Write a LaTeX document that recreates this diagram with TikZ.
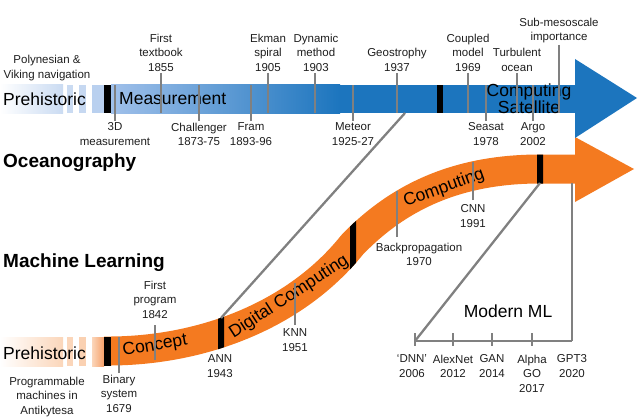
\documentclass[tikz,border=0pt]{standalone}
\usepackage{fontspec}
\setmainfont{Liberation Sans}
\usetikzlibrary{positioning}

\definecolor{oceanblue}{RGB}{28,117,190}
\definecolor{paleblue}{RGB}{202,219,242}
\definecolor{midblue}{RGB}{160,192,234}
\definecolor{mlorange}{RGB}{244,122,32}
\definecolor{paleorange}{RGB}{251,214,186}
\definecolor{midorange}{RGB}{246,160,106}
\definecolor{tickgray}{RGB}{128,128,128}
\definecolor{labeltext}{RGB}{30,30,30}

\tikzstyle{event} = [align=center, inner sep=1.5pt, text=labeltext, font=\fontsize{11.5}{14.5}\selectfont]
\tikzstyle{era} = [inner sep=0pt, text=black, align=center, font=\fontsize{17.5}{15}\selectfont]
\tikzstyle{field} = [inner sep=0pt, anchor=west, font=\fontsize{19}{22}\bfseries\selectfont]
\tikzstyle{tick} = [draw=tickgray, line width=2.6pt]
\tikzstyle{link} = [draw=tickgray, line width=2.3pt]
\tikzstyle{band} = [draw=mlorange, line width=29pt]

\newcommand{\MLPath}{(104,351) .. controls (200,352) and (295,316) .. (352,245)
    .. controls (400,195) and (460,169) .. (540,169) -- (575,169)}

\begin{document}
\begin{tikzpicture}[x=1pt, y=-1pt]
    \useasboundingbox (0,0) rectangle (640,420);

    % machine learning band
    \fill[mlorange] (575,137) -- (575,202) -- (634,169) -- cycle;
    \draw[band] \MLPath;
    \shade[left color=white, right color=paleorange] (0,337) rectangle (63,366);
    \fill[paleorange] (67,337) rectangle (73,366);
    \fill[paleorange!90!midorange] (79,337) rectangle (86,366);
    \shade[left color=paleorange, right color=midorange] (92,337) rectangle (104,366);
    \fill[black] (104,337) rectangle (111,366);
    \foreach \x in {218,350,537}{
        \begin{scope}
            \clip (\x,140) rectangle (\x+6,380);
            \draw[band, draw=black] \MLPath;
        \end{scope}
    }

    % oceanography band
    \fill[oceanblue] (111,85) rectangle (575,113);
    \shade[left color=midblue, right color=oceanblue] (111,85) rectangle (340,113);
    \fill[oceanblue] (575,59) -- (575,138) -- (637,98) -- cycle;
    \shade[left color=white, right color=paleblue] (0,85) rectangle (63,113);
    \fill[paleblue] (67,85) rectangle (73,113);
    \fill[paleblue!90!midblue] (79,85) rectangle (86,113);
    \fill[paleblue!60!midblue] (92,85) rectangle (104,113);
    \fill[black] (104,85) rectangle (111,113);
    \fill[black] (437,85) rectangle (443,113);

    % era names
    \node[era, anchor=west] (PreOcean) at (3,99) {Prehistoric};
    \node[era, anchor=west] (Measurement) at (119,99) {Measurement};
    \node[era] (CompSatellite) at (529,99) {Computing\\Satellite};
    \node[era, anchor=west] (PreML) at (3,353) {Prehistoric};
    \node[era, rotate=10] (Concept) at (155,346) {Concept};
    \node[era, rotate=33] (DigitalComputing) at (289,297) {Digital Computing};
    \node[era, rotate=20] (Computing) at (444,188) {Computing};
    \node[field] (Oceanography) at (3,163) {Oceanography};
    \node[field] (MachineLearning) at (3,263) {Machine Learning};

    % oceanography events
    \node[event] (Navigation) at (47,68) {Polynesian \&\\Viking navigation};
    \node[event, anchor=south] (FirstTextbook) at (161,73) {First\\textbook\\1855};
    \node[event, anchor=south] (Ekman) at (268,73) {Ekman\\spiral\\1905};
    \node[event, anchor=south] (Dynamic) at (316,73) {Dynamic\\method\\1903};
    \node[event, anchor=south] (Geostrophy) at (397,73) {Geostrophy\\1937};
    \node[event, anchor=south] (Coupled) at (468,73) {Coupled\\model\\1969};
    \node[event, anchor=south] (Turbulent) at (517,73) {Turbulent\\ocean};
    \node[event, anchor=south] (SubMeso) at (559,45) {Sub-mesoscale\\importance};
    \node[event, anchor=north] (ThreeD) at (115,121) {3D\\measurement};
    \node[event, anchor=north] (Challenger) at (199,121) {Challenger\\1873-75};
    \node[event, anchor=north] (Fram) at (251,121) {Fram\\1893-96};
    \node[event, anchor=north] (Meteor) at (353,121) {Meteor\\1925-27};
    \node[event, anchor=north] (Seasat) at (486,121) {Seasat\\1978};
    \node[event, anchor=north] (Argo) at (533,121) {Argo\\2002};

    \foreach \n in {FirstTextbook,Ekman,Geostrophy,Coupled,Turbulent}
        \draw[tick] (\n.south) -- ++(0,40);
    \draw[tick] (Dynamic.south) ++(-1,0) -- ++(0,40);
    \draw[tick] (SubMeso.south) -- ++(0,68);
    \foreach \n in {ThreeD,Challenger,Fram,Meteor,Seasat,Argo}
        \draw[tick] (\n.north) -- ++(0,-36);

    % machine learning events
    \node[event] (Antikytesa) at (47,397) {Programmable\\machines in\\Antikytesa};
    \node[event, anchor=north] (Binary) at (119,373) {Binary\\system\\1679};
    \node[event, anchor=south] (FirstProgram) at (155,320) {First\\program\\1842};
    \node[event, anchor=north] (ANN) at (220,353) {ANN\\1943};
    \node[event, anchor=north] (KNN) at (295,327) {KNN\\1951};
    \node[event, anchor=north] (Backprop) at (419,241) {Backpropagation\\1970};
    \node[event, anchor=north] (CNN) at (473,203) {CNN\\1991};

    \draw[tick] (Binary.north) -- ++(0,-36);
    \draw[tick] (FirstProgram.south) ++(0,5) -- ++(0,35);
    \draw[tick] (KNN.north) ++(0,-2) -- ++(0,-42);
    \draw[tick] (Backprop.north -| 397,0) ++(0,-4) -- ++(0,-46);
    \draw[tick] (CNN.north) ++(0,-3) -- ++(0,-38);

    % links and modern ML
    \coordinate (ANNBar) at (221,318);
    \coordinate (GeoBar) at (405,113);
    \coordinate (CompBar) at (540,183);
    \coordinate (BandEnd) at (572,183);
    \coordinate (DNNTick) at (415,341);
    \coordinate (AlexNetTick) at (453,341);
    \coordinate (GANTick) at (492,341);
    \coordinate (AlphaTick) at (532,341);
    \coordinate (GPTTick) at (572,341);

    \draw[link] (ANNBar) -- (GeoBar);
    \draw[link] (CompBar) -- (DNNTick);
    \draw[tick] (BandEnd) -- (GPTTick);
    \draw[tick] (DNNTick) -- (GPTTick);
    \foreach \t in {DNNTick,AlexNetTick,GANTick,AlphaTick}
        \draw[tick] (\t) ++(0,-8) -- ++(0,13);

    \node[era] (ModernML) at (508,311) {Modern ML};
    \node[event, anchor=north] (DNN) at (412,353) {`DNN'\\2006};
    \node[event, anchor=north] (AlexNet) at (453,353) {AlexNet\\2012};
    \node[event, anchor=north] (GAN) at (492,353) {GAN\\2014};
    \node[event, anchor=north] (AlphaGO) at (532,353) {Alpha\\GO\\2017};
    \node[event, anchor=north] (GPT) at (572,353) {GPT3\\2020};
\end{tikzpicture}
\end{document}
